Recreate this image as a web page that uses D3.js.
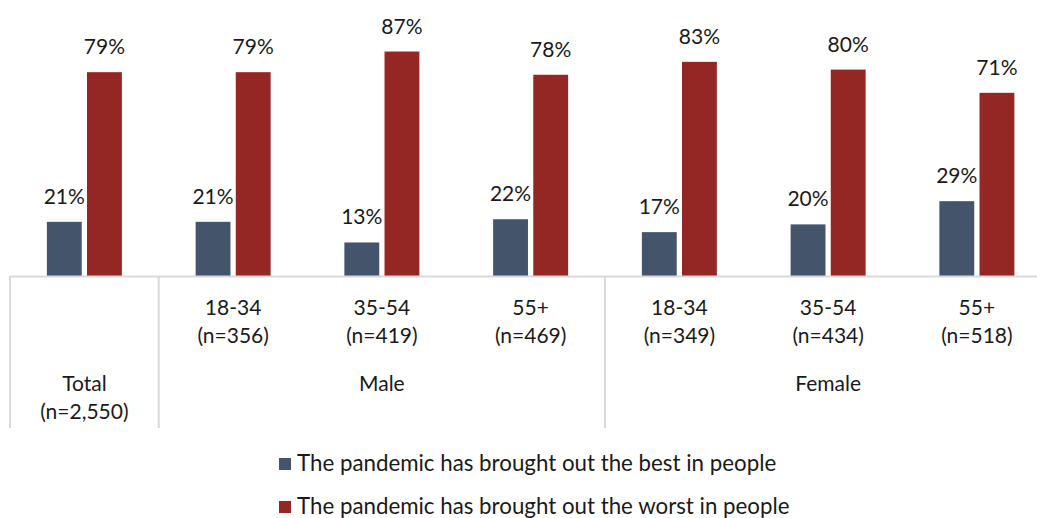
<!DOCTYPE html>
<html>
<head>
<meta charset="utf-8">
<script src="https://cdn.jsdelivr.net/npm/d3@7/dist/d3.min.js"></script>
<style>
  html, body { margin: 0; padding: 0; background: #fff; }
  svg { display: block; font-family: Lato, "Open Sans", sans-serif; }
</style>
</head>
<body>
<svg id="chart" width="1037" height="518"></svg>
<script>
// Age bands within each gender, plus the overall total
const categories = ["Total", "M 18-34", "M 35-54", "M 55+", "F 18-34", "F 35-54", "F 55+"];
const ageLabels = ["", "18-34", "35-54", "55+", "18-34", "35-54", "55+"];
const sampleLabels = ["", "(n=356)", "(n=419)", "(n=469)", "(n=349)", "(n=434)", "(n=518)"];
const groups = [
  { name: "Total", sub: "(n=2,550)", from: 0, to: 1 },
  { name: "Male", sub: "", from: 1, to: 4 },
  { name: "Female", sub: "", from: 4, to: 7 }
];
const seriesNames = [
  "The pandemic has brought out the best in people",
  "The pandemic has brought out the worst in people"
];
const bestValues = [21, 21, 13, 22, 17, 20, 29];
const worstValues = [79, 79, 87, 78, 83, 80, 71];
const colors = ["#44546a", "#942623"];

const svg = d3.select("#chart");

const x0 = 10, step = 148.75;
const x = d3.scaleBand()
  .domain(categories)
  .range([x0, x0 + step * categories.length])
  .paddingInner(0).paddingOuter(0);

const inner = d3.scaleBand()
  .domain([0, 1])
  .range([-37.5, 37.5])
  .paddingInner(10 / 76)
  .paddingOuter(0);

const y = d3.scaleLinear().domain([0, 100]).range([276, 18]);

const series = [bestValues, worstValues];

// Bars and value labels
series.forEach((vals, si) => {
  const g = svg.append("g");
  g.selectAll("rect")
    .data(vals)
    .join("rect")
    .attr("x", (d, i) => x(categories[i]) + x.bandwidth() / 2 + inner(si))
    .attr("width", inner.bandwidth())
    .attr("y", d => y(d))
    .attr("height", d => y(0) - y(d))
    .attr("fill", colors[si]);
  g.selectAll("text")
    .data(vals)
    .join("text")
    .attr("x", (d, i) => x(categories[i]) + x.bandwidth() / 2 + inner(si) + inner.bandwidth() / 2)
    .attr("y", d => y(d) - 18)
    .attr("text-anchor", "middle")
    .attr("font-size", 21)
    .attr("fill", "#1a1a1a")
    .text(d => d + "%");
});

// Category axis: baseline and group dividers
const axisColor = "#d9d9d9";
svg.append("line")
  .attr("x1", x0).attr("x2", 1037)
  .attr("y1", y(0) + 0.5).attr("y2", y(0) + 0.5)
  .attr("stroke", axisColor).attr("stroke-width", 2);

const dividerIdx = [0, 1, 4];
svg.selectAll("line.div")
  .data(dividerIdx)
  .join("line")
  .attr("class", "div")
  .attr("x1", i => x(categories[i]))
  .attr("x2", i => x(categories[i]))
  .attr("y1", y(0))
  .attr("y2", 428)
  .attr("stroke", axisColor).attr("stroke-width", 2);

// Age band labels
const lab = svg.append("g").attr("font-size", 21).attr("fill", "#1a1a1a").attr("text-anchor", "middle");
categories.forEach((c, i) => {
  const cx = x(c) + x.bandwidth() / 2;
  if (ageLabels[i]) lab.append("text").attr("x", cx).attr("y", 315).text(ageLabels[i]);
  if (sampleLabels[i]) lab.append("text").attr("x", cx).attr("y", 343).text(sampleLabels[i]);
});

// Group labels
groups.forEach(gr => {
  const cx = (x(categories[gr.from]) + x(categories[gr.to - 1]) + x.bandwidth()) / 2;
  lab.append("text").attr("x", cx).attr("y", 391).text(gr.name);
  if (gr.sub) lab.append("text").attr("x", cx).attr("y", 419).text(gr.sub);
});

// Legend
const legend = svg.append("g");
seriesNames.forEach((name, i) => {
  const ly = 471 + i 
    * 43;
  legend.append("rect")
    .attr("x", 279).attr("y", ly - 13)
    .attr("width", 12).attr("height", 12)
    .attr("fill", colors[i]);
  legend.append("text")
    .attr("x", 297).attr("y", ly)
    .attr("font-size", 22.3)
    .attr("fill", "#1a1a1a")
    .text(name);
});
</script>
</body>
</html>
